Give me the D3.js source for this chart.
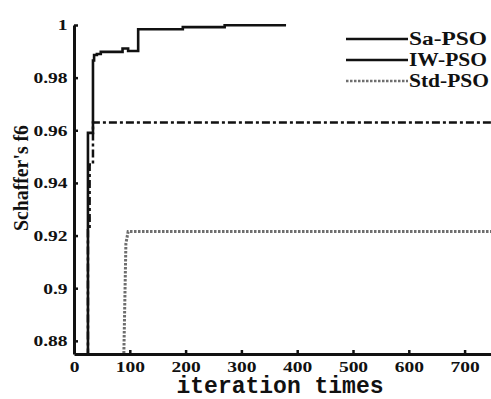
<!DOCTYPE html>
<meta charset="utf-8">
<script src="https://d3js.org/d3.v7.min.js"></script>
<style>
body { margin: 0; background: #fff; }
</style>
<div id="chart"></div>
<script>
// data
var series = ["Sa-PSO", "IW-PSO", "Std-PSO"];
var iterTicks = [0, 100, 200, 300, 400, 500, 600, 700];
var fitTicks = [0.88, 0.9, 0.92, 0.94, 0.96, 0.98, 1];

var saIter = [0, 25, 34, 36, 41, 48, 87, 97, 115, 195, 270, 380];
var saFit  = [0.86, 0.959, 0.9865, 0.9886, 0.989, 0.9898, 0.9911, 0.9901, 0.9984, 0.9992, 0.9999, 0.9999];

var iwIter = [0, 25, 28, 34, 750];
var iwFit  = [0.86, 0.922, 0.947, 0.963, 0.963];

var stdIter = [88, 93, 97, 750];
var stdFit  = [0.86, 0.917, 0.9215, 0.9215];

var width = 491, height = 399;

var svg = d3.select("#chart").append("svg")
  .attr("width", width)
  .attr("height", height);

var x = d3.scaleLinear().domain([0, 750]).range([74, 492.5]);
var y = d3.scaleLinear().domain([0.875, 1]).range([354, 25]);

svg.append("clipPath").attr("id", "plot")
  .append("rect").attr("x", 74).attr("y", 15).attr("width", 420).attr("height", 339);

function pts(xs, ys) { return xs.map(function(d, i) { return [d, ys[i]]; }); }

var stepLine = d3.line()
  .x(function(d) { return x(d[0]); })
  .y(function(d) { return y(d[1]); })
  .curve(d3.curveStepAfter);

var straightLine = d3.line()
  .x(function(d) { return x(d[0]); })
  .y(function(d) { return y(d[1]); });

var g = svg.append("g").attr("clip-path", "url(#plot)");

// Std-PSO, gray dotted
g.append("path")
  .attr("d", straightLine(pts(stdIter, stdFit)))
  .attr("fill", "none")
  .attr("stroke", "#6e6e6e")
  .attr("stroke-width", 3)
  .attr("stroke-dasharray", "2.5,1.5");

// IW-PSO, dash-dot
g.append("path")
  .attr("d", stepLine(pts(iwIter, iwFit)))
  .attr("fill", "none")
  .attr("stroke", "#111")
  .attr("stroke-width", 2.5)
  .attr("stroke-dasharray", "8,3,3,3");

// Sa-PSO, solid
g.append("path")
  .attr("d", stepLine(pts(saIter, saFit)))
  .attr("fill", "none")
  .attr("stroke", "#111")
  .attr("stroke-width", 2.6);

// axes
var yAxis = svg.append("g")
  .attr("transform", "translate(74,0)")
  .call(d3.axisLeft(y).tickValues(fitTicks).tickFormat(d3.format("~g"))
    .tickSize(-4).tickSizeOuter(0).tickPadding(5));

var xAxis = svg.append("g")
  .attr("transform", "translate(0,354)")
  .call(d3.axisBottom(x).tickValues(iterTicks)
    .tickSize(-4).tickSizeOuter(0).tickPadding(7));

[xAxis, yAxis].forEach(function(a) {
  a.select(".domain").attr("stroke", "#111").attr("stroke-width", 3);
  a.selectAll(".tick line").attr("stroke", "#111").attr("stroke-width", 2.5);
  a.selectAll(".tick text")
    .attr("fill", "#111")
    .attr("transform", "scale(1.3,1)")
    .style("font-family", "'Liberation Serif', serif")
    .style("font-weight", "bold")
    .style("font-size", "15px");
});

// axis titles
svg.append("text")
  .attr("transform", "translate(28,178) rotate(-90)")
  .attr("text-anchor", "middle")
  .attr("textLength", 106)
  .attr("lengthAdjust", "spacingAndGlyphs")
  .style("font-family", "'Liberation Serif', serif")
  .style("font-weight", "bold")
  .style("font-size", "22px")
  .attr("fill", "#111")
  .text("Schaffer's f6");

svg.append("text")
  .attr("x", 280)
  .attr("y", 393)
  .attr("text-anchor", "middle")
  .style("font-family", "'Liberation Mono', monospace")
  .style("font-weight", "bold")
  .style("font-size", "23px")
  .attr("fill", "#111")
  .text("iteration times");

// legend
var legendY = [39, 60, 81];
var legendStyle = [
  {stroke: "#111", dash: null, w: 2.6},
  {stroke: "#111", dash: null, w: 2.6},
  {stroke: "#6e6e6e", dash: "2.5,1.5", w: 2.6}
];
series.forEach(function(name, i) {
  svg.append("line")
    .attr("x1", 346).attr("x2", 408)
    .attr("y1", legendY[i]).attr("y2", legendY[i])
    .attr("stroke", legendStyle[i].stroke)
    .attr("stroke-width", legendStyle[i].w)
    .attr("stroke-dasharray", legendStyle[i].dash);
  svg.append("text")
    .attr("x", 409)
    .attr("y", legendY[i] + 6)
    .attr("textLength", i === 2 ? 80 : 78)
    .attr("lengthAdjust", "spacingAndGlyphs")
    .style("font-family", "'Liberation Serif', serif")
    .style("font-weight", "bold")
    .style("font-size", "18px")
    .attr("fill", "#111")
    .text(name);
});
</script>
